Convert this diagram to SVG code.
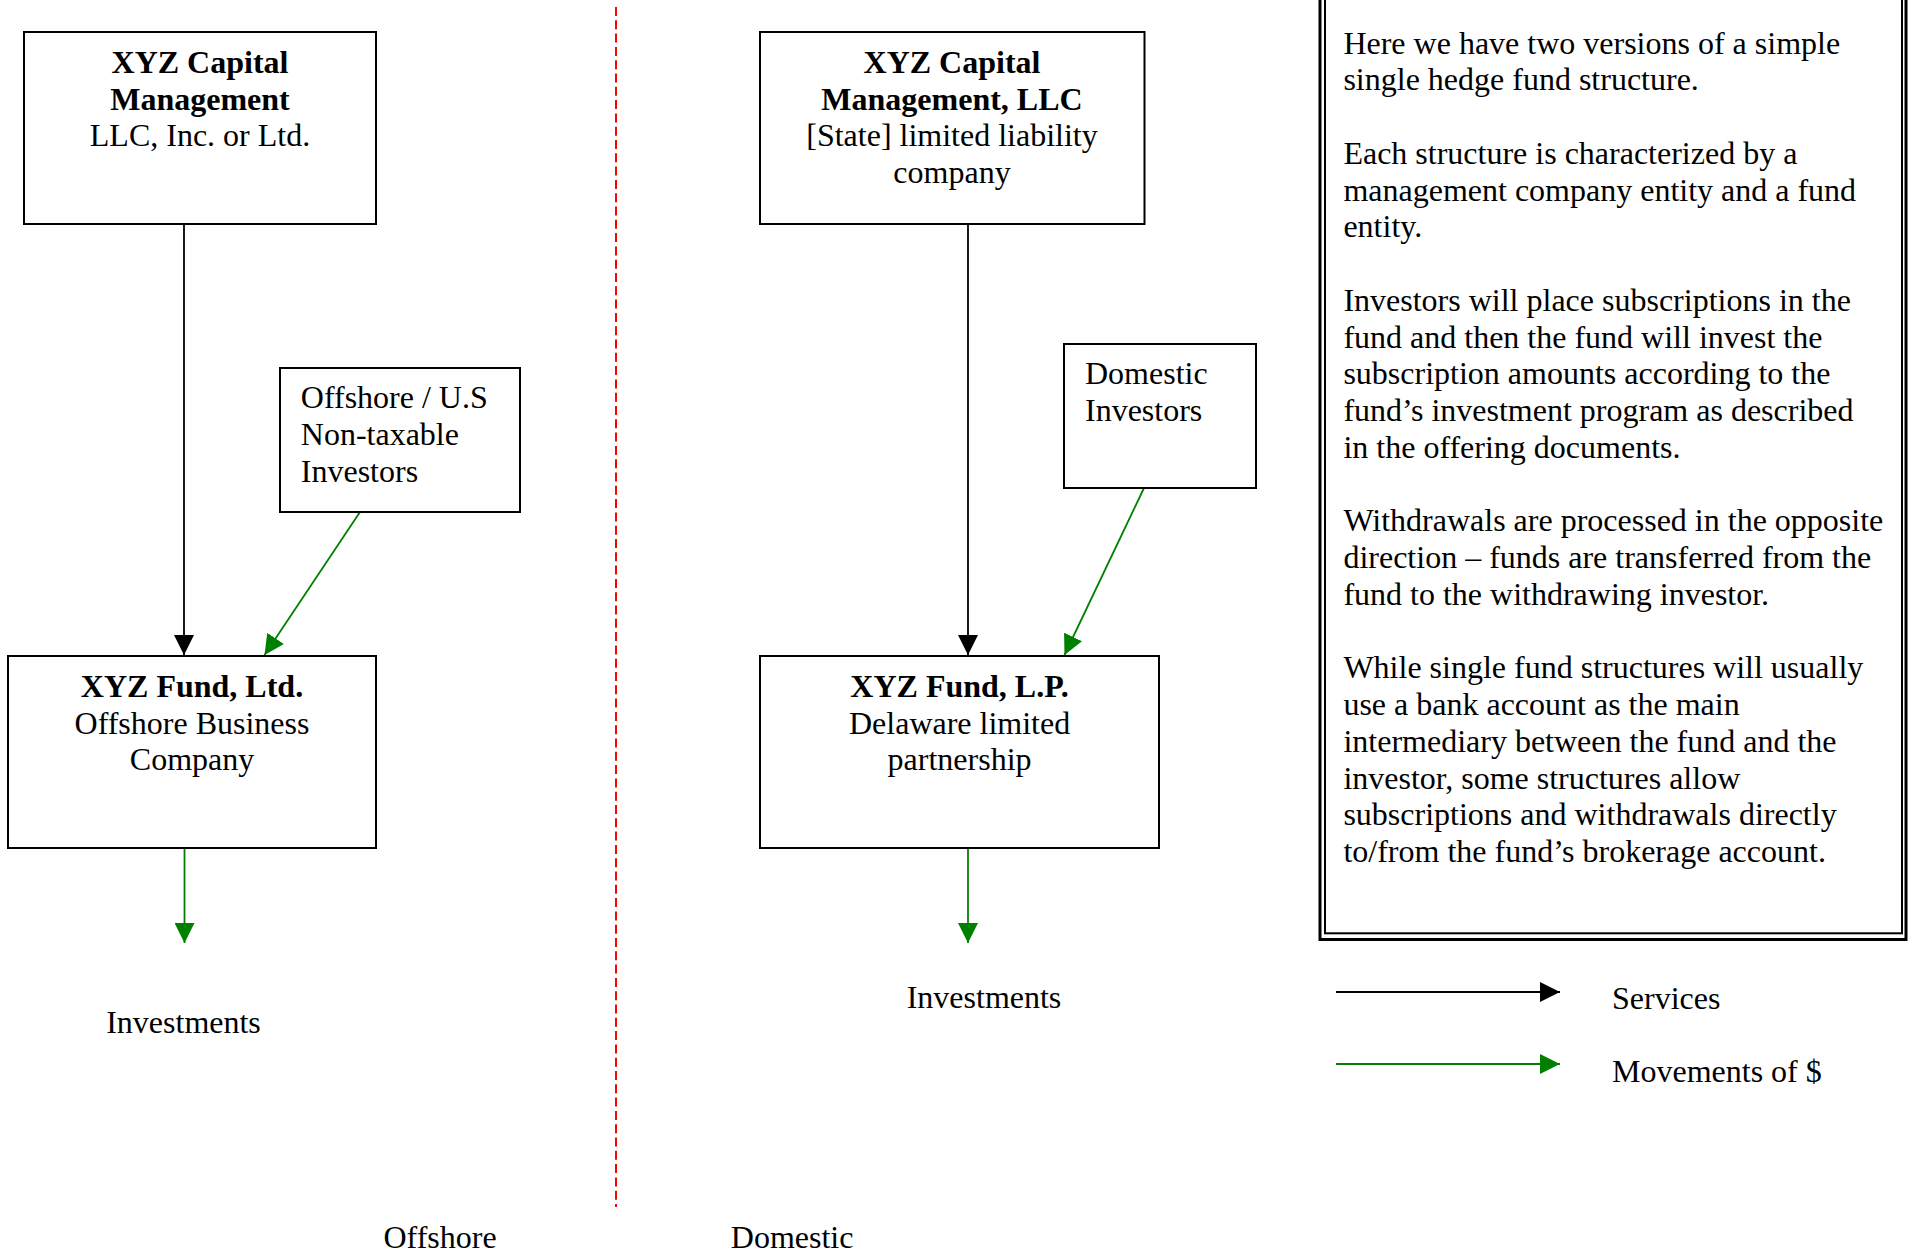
<svg xmlns="http://www.w3.org/2000/svg" width="1908" height="1251" viewBox="0 0 1908 1251">
<defs>
<style>
text{font-family:"Liberation Serif","Times New Roman",serif;font-size:32px;fill:#000}
.b{font-weight:bold}
.m{text-anchor:middle}
.box{fill:#fff;stroke:#000;stroke-width:2}
.svc{stroke:#000;stroke-width:1.8;fill:none}
.mon{stroke:#008000;stroke-width:1.8;fill:none}
</style>
<marker id="ab" markerUnits="userSpaceOnUse" markerWidth="20" markerHeight="20" refX="20" refY="10" orient="auto" viewBox="0 0 20 20">
<path d="M0,0 L20,10 L0,20 z" fill="#000"/>
</marker>
<marker id="ag" markerUnits="userSpaceOnUse" markerWidth="20" markerHeight="20" refX="20" refY="10" orient="auto" viewBox="0 0 20 20">
<path d="M0,0 L20,10 L0,20 z" fill="#008000"/>
</marker>
</defs>
<rect width="1908" height="1251" fill="#fff"/>

<line x1="616" y1="7" x2="616" y2="1207" stroke="#ff0000" stroke-width="2" stroke-dasharray="9 4.3"/>

<g id="connectors">
<path class="svc" d="M184,224 L184,655" marker-end="url(#ab)"/>
<path class="mon" d="M360,512 L264.5,655" marker-end="url(#ag)"/>
<path class="svc" d="M968,224 L968,655" marker-end="url(#ab)"/>
<path class="mon" d="M1144,488 L1064.5,655" marker-end="url(#ag)"/>
<path class="mon" d="M184.5,848 L184.5,943" marker-end="url(#ag)"/>
<path class="mon" d="M968,848 L968,943" marker-end="url(#ag)"/>
</g>

<g id="mgmt-offshore">
<rect class="box" x="24" y="32" width="352" height="192"/>
<text class="b m" x="200" y="72.8">XYZ Capital</text>
<text class="b m" x="200" y="109.5">Management</text>
<text class="m" x="200" y="146">LLC, Inc. or Ltd.</text>
</g>

<g id="investors-offshore">
<rect class="box" x="280" y="368" width="240" height="144"/>
<text x="300.8" y="408.3">Offshore / U.S</text>
<text x="300.8" y="445">Non-taxable</text>
<text x="300.8" y="481.5">Investors</text>
</g>

<g id="fund-offshore">
<rect class="box" x="8" y="656" width="368" height="192"/>
<text class="b m" x="192" y="696.9">XYZ Fund, Ltd.</text>
<text class="m" x="192" y="733.5">Offshore Business</text>
<text class="m" x="192" y="770.1">Company</text>
</g>

<g id="investments-offshore">
<text class="m" x="183.5" y="1032.8">Investments</text>
</g>

<g id="mgmt-domestic">
<rect class="box" x="760" y="32" width="384.5" height="192"/>
<text class="b m" x="952" y="72.8">XYZ Capital</text>
<text class="b m" x="952" y="109.5">Management, LLC</text>
<text class="m" x="952" y="146">[State] limited liability</text>
<text class="m" x="952" y="182.5">company</text>
</g>

<g id="investors-domestic">
<rect class="box" x="1064" y="344" width="192" height="144"/>
<text x="1085" y="384.4">Domestic</text>
<text x="1085" y="421">Investors</text>
</g>

<g id="fund-domestic">
<rect class="box" x="760" y="656" width="399" height="192"/>
<text class="b m" x="959.6" y="696.9">XYZ Fund, L.P.</text>
<text class="m" x="959.6" y="733.5">Delaware limited</text>
<text class="m" x="959.6" y="770.1">partnership</text>
</g>

<g id="investments-domestic">
<text class="m" x="984" y="1007.8">Investments</text>
</g>

<g id="notes">
<rect x="1320" y="-10" width="586" height="949.5" fill="#fff" stroke="#000" stroke-width="3"/>
<rect x="1325" y="-10" width="577" height="943.3" fill="none" stroke="#000" stroke-width="2"/>
<text x="1343.4">
<tspan x="1343.4" y="53.5">Here we have two versions of a simple</tspan>
<tspan x="1343.4" y="90.25">single hedge fund structure.</tspan>
<tspan x="1343.4" y="163.75">Each structure is characterized by a</tspan>
<tspan x="1343.4" y="200.5">management company entity and a fund</tspan>
<tspan x="1343.4" y="237.25">entity.</tspan>
<tspan x="1343.4" y="310.75">Investors will place subscriptions in the</tspan>
<tspan x="1343.4" y="347.5">fund and then the fund will invest the</tspan>
<tspan x="1343.4" y="384.25">subscription amounts according to the</tspan>
<tspan x="1343.4" y="421">fund’s investment program as described</tspan>
<tspan x="1343.4" y="457.75">in the offering documents.</tspan>
<tspan x="1343.4" y="531.25">Withdrawals are processed in the opposite</tspan>
<tspan x="1343.4" y="568">direction – funds are transferred from the</tspan>
<tspan x="1343.4" y="604.75">fund to the withdrawing investor.</tspan>
<tspan x="1343.4" y="678.25">While single fund structures will usually</tspan>
<tspan x="1343.4" y="715">use a bank account as the main</tspan>
<tspan x="1343.4" y="751.75">intermediary between the fund and the</tspan>
<tspan x="1343.4" y="788.5">investor, some structures allow</tspan>
<tspan x="1343.4" y="825.25">subscriptions and withdrawals directly</tspan>
<tspan x="1343.4" y="862">to/from the fund’s brokerage account.</tspan>
</text>
</g>

<g id="legend">
<path class="svc" d="M1336,992 L1560,992" marker-end="url(#ab)"/>
<text x="1612" y="1008.5">Services</text>
<path class="mon" d="M1336,1064 L1560,1064" marker-end="url(#ag)"/>
<text x="1612" y="1081.5">Movements of $</text>
</g>

<g id="labels">
<text x="383.5" y="1247.5">Offshore</text>
<text x="730.8" y="1247.5">Domestic</text>
</g>
</svg>
